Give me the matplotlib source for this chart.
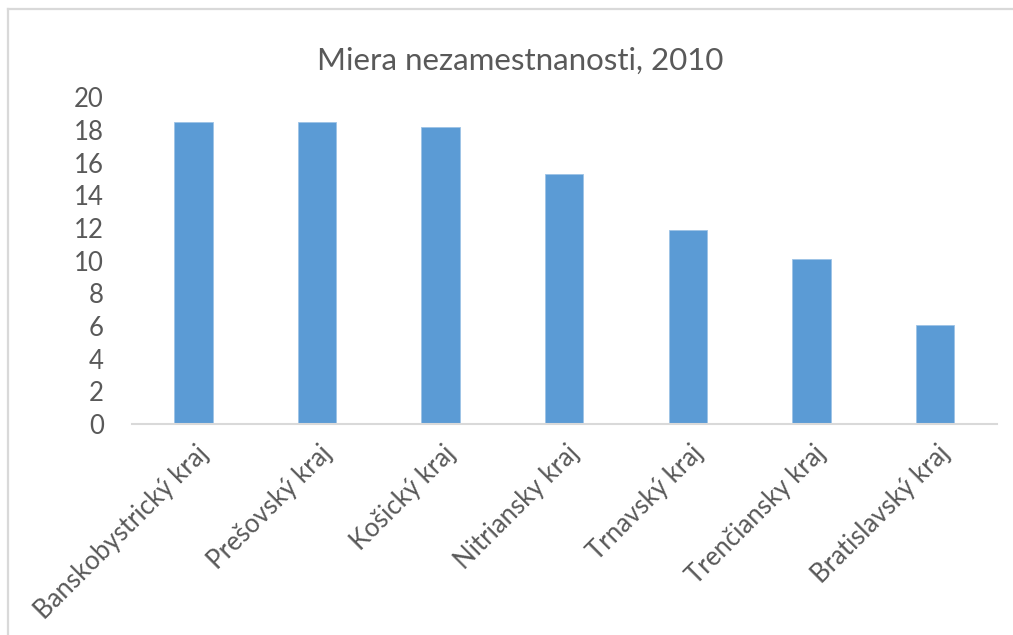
import matplotlib.pyplot as plt
import matplotlib.transforms as mtransforms
from matplotlib.lines import Line2D
import numpy as np

plt.rcParams['font.family'] = ['Lato', 'DejaVu Sans']

# data
regions = ['Banskobystrický kraj', 'Prešovský kraj', 'Košický kraj', 'Nitriansky kraj',
           'Trnavský kraj', 'Trenčiansky kraj', 'Bratislavský kraj']
unemployment = [18.5, 18.5, 18.2, 15.3, 11.9, 10.1, 6.05]
yticks = [0, 2, 4, 6, 8, 10, 12, 14, 16, 18, 20]

text_col = '#595959'
bar_col = '#5B9BD5'

fig = plt.figure(figsize=(10.13, 6.35), dpi=100)
ax = fig.add_axes([0.130, 0.332, 0.854, 0.515])

x = np.arange(len(regions))
ax.bar(x, unemployment, width=0.31, color=bar_col, edgecolor='#9dc3e6', linewidth=0.6)

ax.set_xlim(-0.5, len(regions) - 0.5)
ax.set_ylim(0, 20)
ax.set_yticks(yticks)
ax.set_yticklabels([str(t) for t in yticks], fontsize=18.5, color=text_col)
ax.set_xticks(x)
ax.set_xticklabels(regions, rotation=45, ha='right', va='top', rotation_mode='anchor',
                   fontsize=18.5, color=text_col)
ax.tick_params(axis='both', length=0)
ax.tick_params(axis='y', pad=20)
ax.tick_params(axis='x', pad=12)
# nudge the slanted labels a touch to the right, like the original
shift = mtransforms.ScaledTranslation(2 / 100, 0, fig.dpi_scale_trans)
for lab in ax.get_xticklabels():
    lab.set_transform(lab.get_transform() + shift)
for side in ['top', 'right', 'left']:
    ax.spines[side].set_visible(False)
ax.spines['bottom'].set_color('#d9d9d9')
ax.spines['bottom'].set_linewidth(1.5)

fig.text(0.514, 0.905, 'Miera nezamestnanosti, 2010', ha='center', va='center',
         fontsize=22.5, color=text_col)

# chart frame (only top and left edges are visible)
fig.add_artist(Line2D([8 / 1013, 1], [1 - 9 / 635, 1 - 9 / 635], color='#d9d9d9', lw=1.6))
fig.add_artist(Line2D([8 / 1013, 8 / 1013], [0, 1 - 9 / 635], color='#d9d9d9', lw=1.6))

fig.savefig('out.png', dpi=100, facecolor='white')
